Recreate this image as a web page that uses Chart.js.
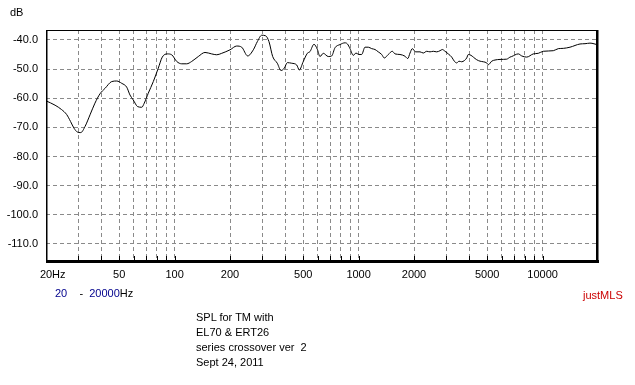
<!DOCTYPE html>
<html>
<head>
<meta charset="utf-8">
<script src="https://cdn.jsdelivr.net/npm/chart.js@4/dist/chart.umd.min.js"></script>
<style>
  html, body { margin: 0; padding: 0; background: #fff; }
  #wrap { position: relative; width: 635px; height: 385px; background: #fff;
          font-family: "Liberation Sans", Arial, sans-serif; font-size: 11px; color: #000; }
  #wrap canvas { position: absolute; left: 0; top: 0; }
  .txt { position: absolute; line-height: 15px; white-space: pre; }
  .blue { color: #00008c; }
</style>
</head>
<body>
<div id="wrap">
  <canvas id="spl" width="635" height="385"></canvas>
  <div class="txt" style="left:10px;top:5px;">dB</div>
  <div class="txt" style="left:55px;top:286px;"><span class="blue">20</span>    -  <span class="blue">20000</span>Hz</div>
  <div class="txt" style="left:583px;top:288px;color:#cc0000;">justMLS</div>
  <div class="txt" style="left:196px;top:310px;">SPL for TM with
EL70 &amp; ERT26
series crossover ver  2
Sept 24, 2011</div>
</div>
<script>
const freqHz = [20, 22.4, 24.3, 25.9, 27.2, 28.4, 29.6, 30.9, 32.6, 34.7, 36.9, 39.3, 41.9, 45.5, 48.5,
  51.6, 54.9, 57.2, 59.6, 63, 66.3, 68.4, 71.9, 76.6, 81.5, 85.7, 91.3, 96.4, 102.7, 109.3, 116.3,
  123.8, 134.5, 146.3, 159, 169.4, 180.3, 200, 217.5, 231.5, 249.6, 267.8, 281.5, 297.4, 312.6,
  325.8, 341.2, 361.4, 378.6, 394.6, 409.8, 432.8, 460.8, 476.2, 500.4, 526.2, 544.2, 572, 596.4,
  616.8, 643, 684, 714, 744, 792, 843, 870, 898, 936, 968, 1005, 1039, 1083, 1129, 1178, 1228,
  1279, 1335, 1379, 1450, 1524, 1577, 1678, 1787, 1849, 1903, 1958, 2043, 2156, 2246, 2345, 2444,
  2546, 2657, 2770, 2851, 2949, 3072, 3206, 3312, 3412, 3512, 3632, 3754, 3868, 3946, 4083, 4202,
  4383, 4570, 4762, 4970, 5070, 5290, 5512, 5868, 6380, 6650, 6792, 7377, 7698, 8196, 8900, 9474,
  10086, 11434, 12168, 12954, 14088, 15968, 17000, 18090, 20000];
const splDb = [-60.9, -62.4, -63.9, -65.6, -68, -70.3, -71.6, -71.8, -69.7, -65.7, -61.7, -58.5, -56.6, -54.3, -54.1,
  -54.9, -56.2, -58.9, -60.6, -62.9, -63.1, -61.7, -58.3, -54.3, -49.7, -45.9, -44.8, -45.1, -47.4, -48.2, -48.2,
  -47.4, -45.7, -44.3, -44.8, -45.1, -44.6, -43.4, -42.1, -42.5, -45.5, -43.4, -40.6, -38.4, -38.6,
  -40.6, -45.7, -48, -50.5, -49.7, -47.8, -48, -48.6, -50.3, -47.4, -44.6, -44, -41.5, -43.2,
  -45.7, -44.6, -45.7, -45.5, -42.7, -41.6, -41, -41.4, -43, -45.3, -44.5, -45, -45, -42.5, -42.5, -43, -43.3,
  -44.1, -45, -46.2, -45, -43.9, -44.8, -45, -45.6, -46.4, -44.5, -43, -44.1, -44.1, -44.5, -43.9, -44.1,
  -43.9, -44.1, -43.7, -43.3, -43.9, -44.8, -45.9, -47.3, -47.9, -47.3, -47.5, -47.1, -46.2, -45, -45.3, -45.9,
  -46.8, -47.3, -47.5, -47.9, -48.5, -47.3, -46.9, -46.7, -46.6, -45.9, -45.7, -44.8, -45.5, -45.9, -44.8, -44.6,
  -43.9, -43.7, -43, -42.9, -42.5, -41.4, -41.3, -41.1, -41.7];

const yTicks = [-110, -100, -90, -80, -70, -60, -50, -40];
const xGridHz = [30, 40, 50, 60, 70, 80, 90, 100, 200, 300, 400, 500, 600, 700, 800, 900,
  1000, 2000, 3000, 4000, 5000, 6000, 7000, 8000, 9000, 10000];
const xLabelHz = [20, 50, 100, 200, 500, 1000, 2000, 5000, 10000];

const points = freqHz.map((f, i) => ({ x: f, y: splDb[i] }));

Chart.defaults.font.family = "'Liberation Sans', Arial, sans-serif";
Chart.defaults.font.size = 11;
Chart.defaults.color = "#000";

// frame, small bottom ticks and frequency labels
const framePlugin = {
  id: "frame",
  afterDraw(chart) {
    const { ctx, chartArea: a } = chart;
    const xs = chart.scales.x;
    ctx.save();
    ctx.fillStyle = "#000";
    ctx.fillRect(a.left, a.top, a.right - a.left, 1);
    ctx.fillRect(a.left, a.top, 1.5, a.bottom - a.top);
    ctx.fillRect(a.left, a.bottom - 2, a.right - a.left + 1, 3);
    ctx.fillRect(a.right - 2, a.top, 2.5, a.bottom - a.top + 1);
    xGridHz.forEach(v => {
      const px = Math.round(xs.getPixelForValue(v)) + 0.5;
      ctx.fillRect(px - 0.5, a.bottom - 6, 1, 4);
    });
    ctx.font = "11px 'Liberation Sans', Arial, sans-serif";
    ctx.textBaseline = "alphabetic";
    xLabelHz.forEach(v => {
      const px = xs.getPixelForValue(v);
      const s = String(v);
      if (v === 20) {
        const w = ctx.measureText(s).width;
        ctx.textAlign = "left";
        ctx.fillText(s + "Hz", px - w / 2, 278);
      } else {
        ctx.textAlign = "center";
        ctx.fillText(s, px, 278);
      }
    });
    ctx.restore();
  }
};

new Chart(document.getElementById("spl"), {
  type: "line",
  data: {
    datasets: [{
      data: points,
      borderColor: "#000",
      borderWidth: 1,
      pointRadius: 0,
      cubicInterpolationMode: "monotone",
      fill: false
    }]
  },
  options: {
    responsive: false,
    animation: false,
    layout: { padding: { top: 30, right: 37, bottom: 123, left: 0 } },
    plugins: { legend: { display: false }, tooltip: { enabled: false } },
    scales: {
      x: {
        type: "logarithmic",
        min: 20,
        max: 20000,
        afterBuildTicks: s => { s.ticks = xGridHz.map(v => ({ value: v })); },
        ticks: { display: false },
        grid: { color: "#8a8a8a", drawTicks: false },
        border: { display: false, dash: [4, 3] }
      },
      y: {
        min: -116.2,
        max: -36.6,
        afterBuildTicks: s => { s.ticks = yTicks.map(v => ({ value: v })); },
        afterFit: s => { s.width = 46; },
        ticks: { padding: 8, callback: v => Number(v).toFixed(1) },
        grid: { color: "#8a8a8a", drawTicks: false },
        border: { display: false, dash: [4, 3] }
      }
    }
  },
  plugins: [framePlugin]
});
</script>
</body>
</html>
